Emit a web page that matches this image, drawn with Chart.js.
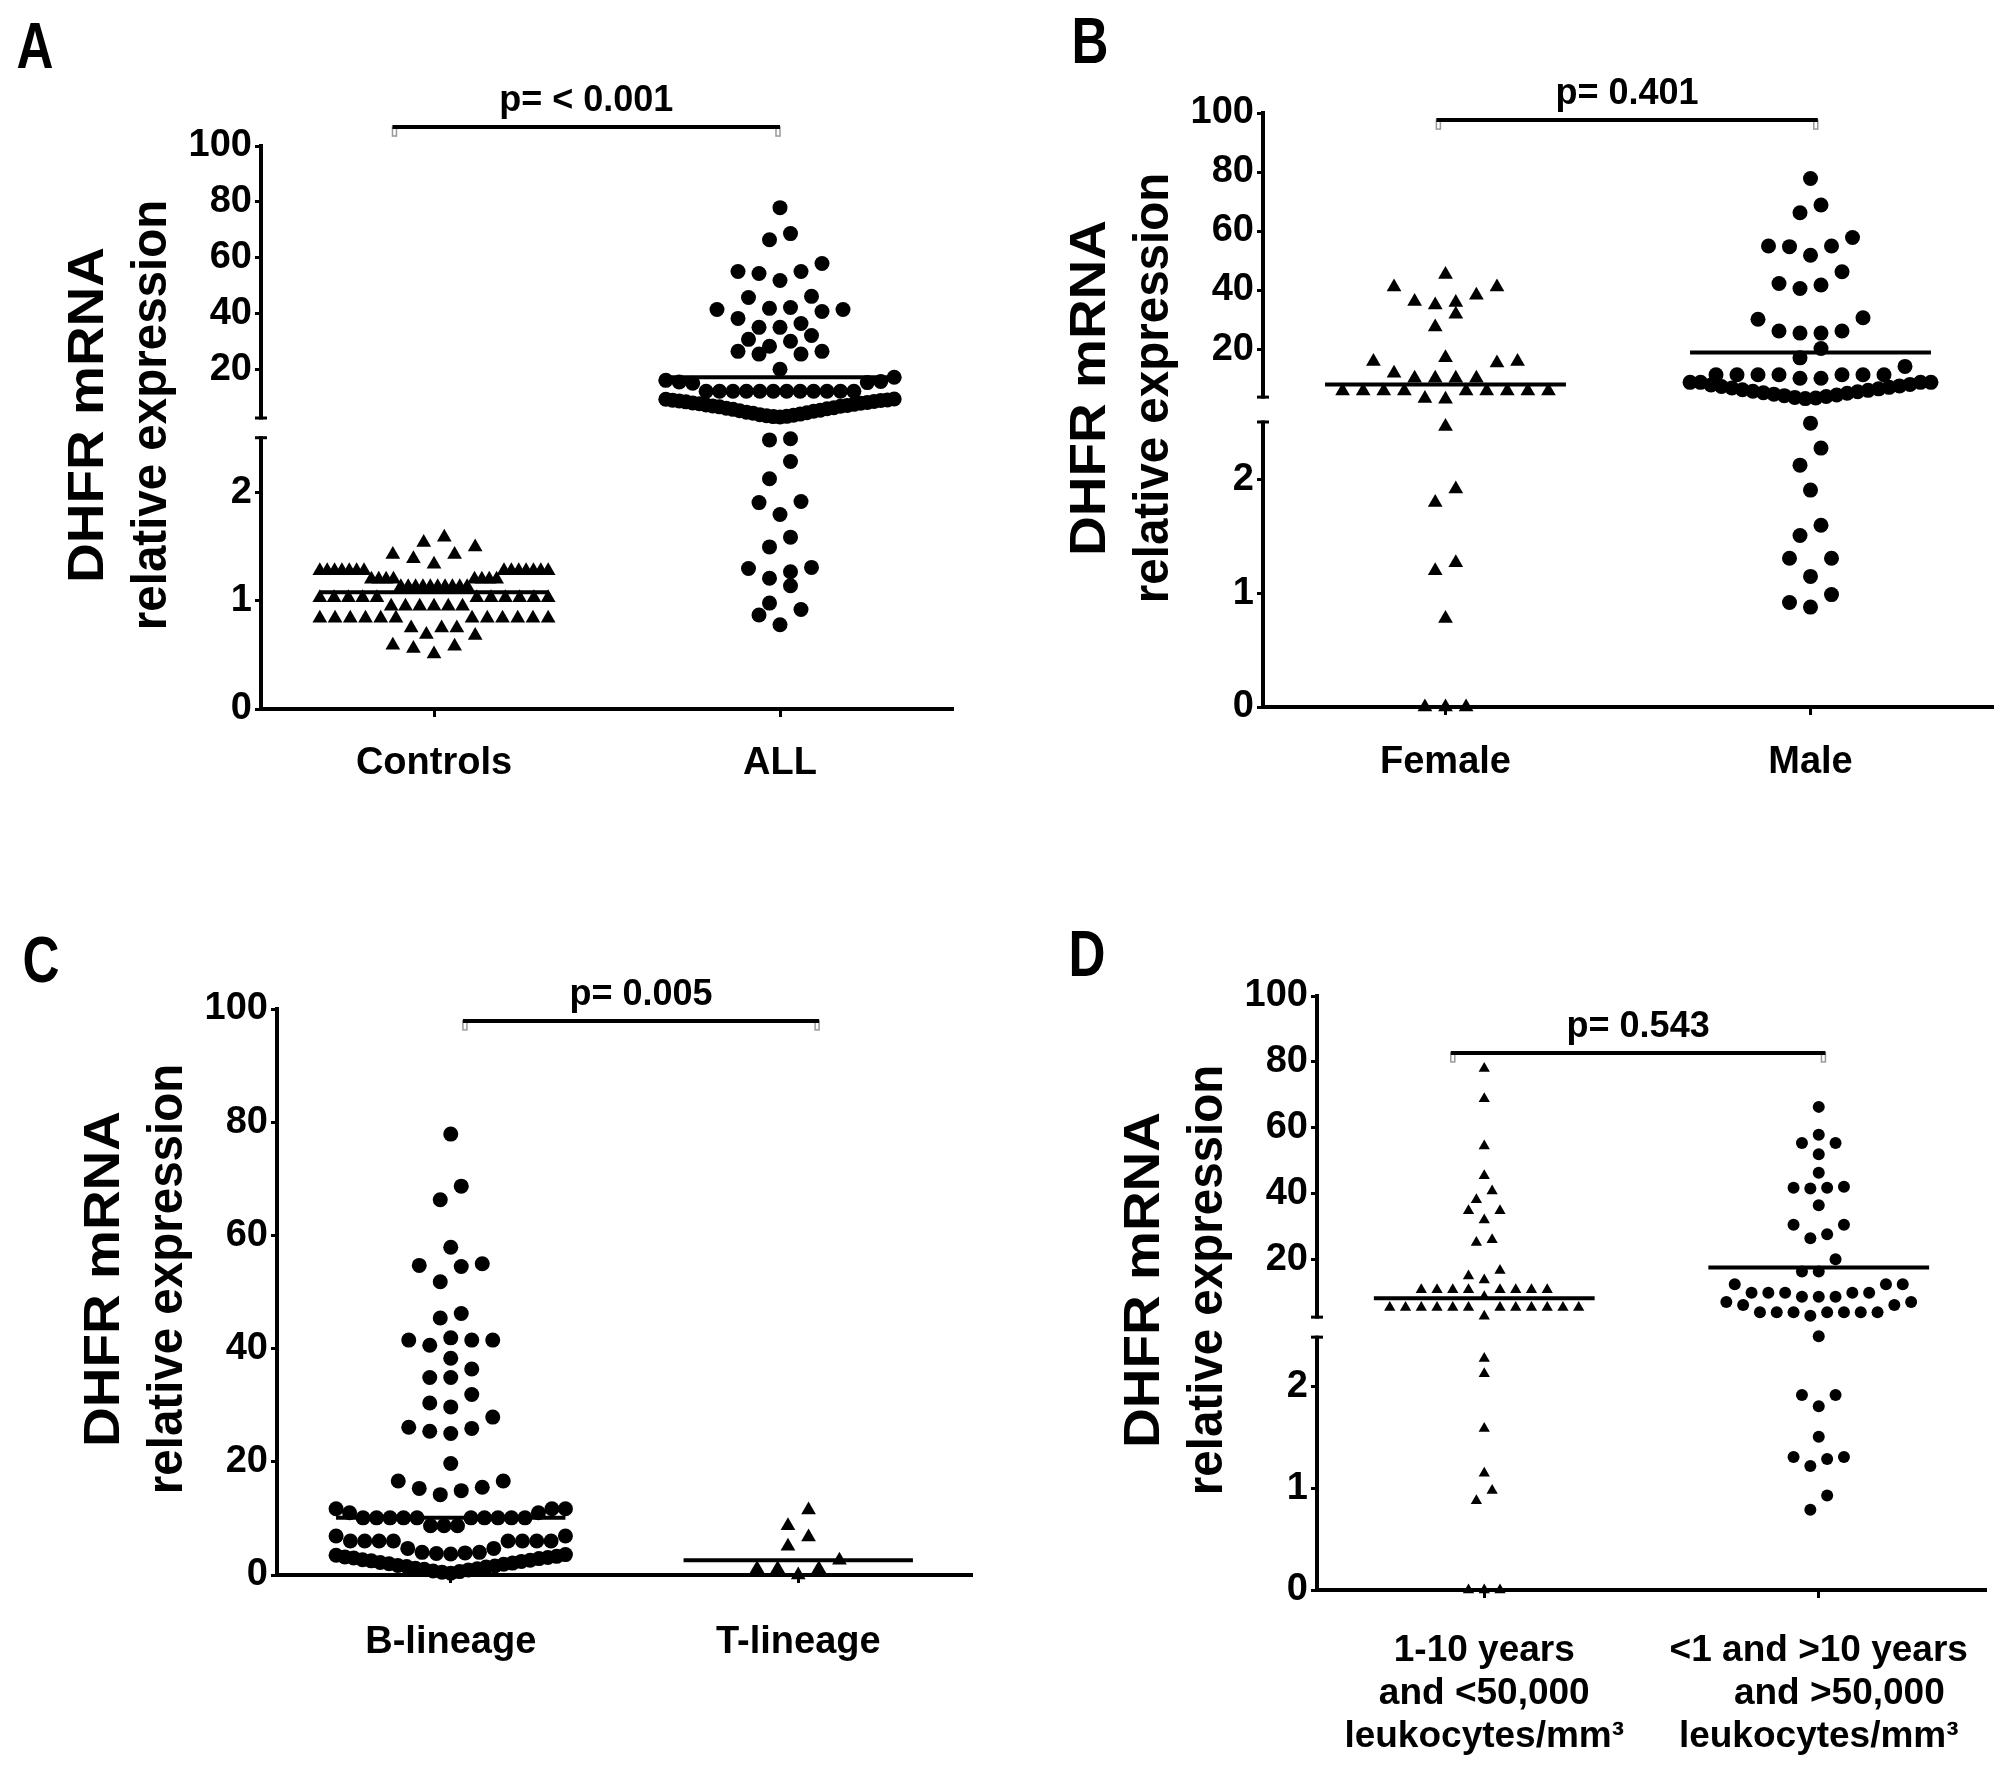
<!DOCTYPE html>
<html>
<head>
<meta charset="utf-8">
<title>DHFR mRNA relative expression</title>
<script src="https://cdn.jsdelivr.net/npm/chart.js@4.4.1/dist/chart.umd.min.js"></script>
<style>
  html, body { margin: 0; padding: 0; background: #fff; width: 2009px; height: 1773px; overflow: hidden; }
  canvas { position: absolute; }
</style>
</head>
<body>
<canvas id="panelA" width="1004" height="880" style="left:0;top:0"></canvas>
<canvas id="panelB" width="1005" height="880" style="left:1004px;top:0"></canvas>
<canvas id="panelC" width="1004" height="893" style="left:0;top:880px"></canvas>
<canvas id="panelD" width="1005" height="893" style="left:1004px;top:880px"></canvas>
<script>
// ---- data ----
const Y_TITLE = ['DHFR mRNA', 'relative expression'];
const UPPER_TICKS = [20, 40, 60, 80, 100];
const LOWER_TICKS = [0, 1, 2];
const LINEAR_TICKS = [0, 20, 40, 60, 80, 100];

// A: Controls vs ALL
const A_CATS = ['Controls', 'ALL'];
const A_CONTROLS = [1.59, 1.54, 1.50, 1.43, 1.43, 1.39, 1.34,
  1.28, 1.28, 1.28, 1.28, 1.28, 1.28, 1.28, 1.28, 1.28, 1.28, 1.28, 1.28, 1.28, 1.28,
  1.20, 1.20, 1.20, 1.20, 1.20, 1.20, 1.20, 1.20,
  1.13, 1.13, 1.13, 1.13, 1.13, 1.13, 1.13, 1.13, 1.13, 1.13,
  1.03, 1.03, 1.03, 1.03, 1.03, 1.03, 1.03, 1.03, 1.03, 1.03, 1.03,
  0.95, 0.95, 0.95, 0.95, 0.95, 0.95,
  0.84, 0.84, 0.84, 0.84, 0.84, 0.84, 0.84, 0.84, 0.84, 0.84, 0.84, 0.84,
  0.75, 0.75, 0.75, 0.69, 0.68, 0.59, 0.58, 0.56, 0.51];
const A_ALL = [77.9, 68.6, 66.4, 57.9, 55.0, 55.0, 54.3, 51.8, 46.1, 45.7, 42.1, 41.8, 41.4, 41.4,
  40.7, 38.2, 36.4, 35.0, 35.0, 32.1, 30.7, 30.0, 28.2, 26.4, 26.4, 25.4, 25.4, 20.0, 17.1,
  16.0, 15.6, 15.2, 15.0, 15.4,
  12.1, 12.1, 12.1, 12.1, 12.1, 12.1, 12.1, 12.1, 12.1, 12.1, 12.1, 12.1,
  9.3, 9.2, 9.0, 8.9, 8.8, 8.6, 8.4, 8.3, 8.1, 7.9, 7.8, 7.6, 7.4, 7.2, 7.0, 6.8, 6.7, 6.5,
  6.2, 6.0, 5.8, 5.6, 5.3, 5.1, 4.9, 4.6, 4.4, 4.2, 3.9, 3.7, 3.5, 3.3, 3.1, 3.0, 2.9,
  2.50, 2.49, 2.29, 2.13, 1.92, 1.91, 1.80, 1.59, 1.50, 1.31, 1.30, 1.27, 1.21, 1.14,
  0.98, 0.92, 0.87, 0.78];
const A_MEANS = [1.08, 17.1];

// B: Female vs Male
const B_CATS = ['Female', 'Male'];
const B_FEMALE = [45.3, 41.0, 41.0, 38.2, 36.1, 35.8, 34.9, 31.8, 27.5, 17.0, 15.8, 15.8, 15.3,
  11.8, 10.1, 10.1, 10.1, 10.1, 5.8, 5.8, 5.8, 5.8, 5.8, 5.8, 5.8, 5.8, 5.8, 3.2, 3.0,
  2.47, 1.92, 1.80, 1.27, 1.20, 0.78, 0, 0, 0];
const B_MALE = [77.8, 68.8, 66.2, 57.8, 54.9, 54.9, 54.7, 51.8, 46.2, 42.2, 41.7, 40.5, 30.6,
  30.1, 26.1, 26.1, 25.4, 25.4, 20.2, 17.0, 14.1, 11.3, 11.3, 11.3, 11.3, 11.3, 11.3, 11.3,
  10.1, 10.1, 8.7, 8.7, 8.7, 8.7,
  8.0, 7.8, 7.5, 7.3, 7.0, 6.8, 6.5, 6.2, 6.0, 5.7, 5.5, 5.2, 5.0, 4.7, 4.4, 4.2, 3.9, 3.6, 3.4, 3.2,
  2.50, 2.28, 2.13, 1.91, 1.60, 1.51, 1.31, 1.31, 1.15, 0.99, 0.92, 0.88];
const B_MEANS = [8.0, 18.8];

// C: B-lineage vs T-lineage
const C_CATS = ['B-lineage', 'T-lineage'];
const C_BLIN = [77.9, 68.7, 66.3, 57.9, 55.0, 54.7, 54.5, 51.8, 46.2, 45.4, 41.9, 41.5, 41.5, 41.5,
  40.6, 38.3, 36.4, 34.9, 34.9, 31.9, 30.4, 29.7, 27.9, 26.1, 25.9, 25.4, 25.0, 19.7, 16.6, 16.6,
  15.5, 15.3, 14.9, 14.2, 11.7, 11.7, 11.7, 11.0, 11.0,
  10.1, 10.1, 10.1, 10.1, 10.1, 10.1, 10.1, 10.1, 10.1, 10.1, 8.7, 8.7, 8.7, 6.9, 6.9,
  6.0, 6.0, 6.0, 6.0, 6.0, 6.0, 6.0, 6.0, 4.7, 4.7, 4.0, 4.0,
  3.9, 3.8, 3.7, 3.6, 3.5, 3.3, 3.2, 3.1, 3.0, 2.9, 2.7, 2.6, 2.5, 2.4, 2.2, 2.1, 2.0, 1.9,
  1.7, 1.6, 1.5, 1.4, 1.2, 1.1, 1.0, 0.9, 0.7, 0.6, 0.5, 0.3];
const C_TLIN = [11.5, 8.7, 6.7, 5.1, 2.6, 1.1, 1.1, 1.1, 0];
const C_MEANS = [10.1, 2.6];

// D: age / leukocyte risk groups
const D_CATS = [['1-10 years', 'and <50,000', 'leukocytes/mm³'],
  ['<1 and >10 years', '\u00a0\u00a0\u00a0\u00a0and >50,000', 'leukocytes/mm³']];
const D_LOW = [78.0, 68.8, 54.4, 45.4, 40.7, 38.1, 34.7, 34.7, 31.9, 25.9, 25.1, 16.6, 14.9, 13.7,
  10.7, 10.7, 10.7, 10.7, 10.7, 10.7, 10.7, 10.7, 8.6,
  5.3, 5.3, 5.3, 5.3, 5.3, 5.3, 5.3, 5.3, 5.3, 5.3, 5.3, 5.3, 2.7,
  2.28, 2.13, 1.59, 1.15, 0.98, 0.88, 0, 0, 0];
const D_HIGH = [66.3, 57.8, 55.3, 55.3, 51.9, 46.3, 42.0, 41.7, 41.7, 41.5, 36.4, 30.5, 30.5, 27.6,
  26.4, 20.0, 16.3, 16.3, 12.4, 12.4, 12.4, 9.8, 9.8, 9.8, 9.8, 9.8, 8.6, 8.6, 8.6, 7.0, 7.0,
  6.1, 6.1, 3.9, 3.9, 3.9, 3.9, 3.9, 3.9, 3.9, 2.8,
  2.50, 1.92, 1.92, 1.81, 1.51, 1.31, 1.31, 1.29, 1.22, 0.93, 0.79];
const D_MEANS = [8.1, 17.5];

const P_LABELS = ['p= < 0.001', 'p= 0.401', 'p= 0.005', 'p= 0.543'];

// ---- drawing ----
const FONT = "'Liberation Sans', Arial, Helvetica, sans-serif";
const BREAK_AT = 2.55;   // values above go on the upper segment
const MEAN_HALF = 0.33;

Chart.defaults.font.family = FONT;
Chart.defaults.font.weight = 'bold';
Chart.defaults.font.size = 38;
Chart.defaults.color = '#000';

const deco = {
  id: 'deco',
  afterDraw(chart, args, o) {
    const ctx = chart.ctx, ca = chart.chartArea, xs = chart.scales.x;
    ctx.save();
    ctx.fillStyle = '#000';
    ctx.textAlign = 'center';
    ctx.textBaseline = 'middle';

    // panel letter
    ctx.font = 'bold 64px ' + FONT;
    ctx.save();
    ctx.translate(o.letter[1], o.letter[2]);
    ctx.scale(0.8, 1);
    ctx.fillText(o.letter[0], 0, 0);
    ctx.restore();

    // y title, two lines (stretched along the text to the measured lengths)
    ctx.font = 'bold 50px ' + FONT;
    Y_TITLE.forEach((line, i) => {
      ctx.save();
      ctx.translate(ca.left + o.titleX[i], o.titleY);
      ctx.rotate(-Math.PI / 2);
      ctx.scale(i === 0 ? 1.1 : 0.95, 1);
      ctx.fillText(line, 0, 0);
      ctx.restore();
    });

    // broken axis
    if (o.brk) {
      const ax = ca.left;
      const yTop = chart.scales.yHi.getPixelForValue(o.brk[0]);
      const yBot = chart.scales.yLo.getPixelForValue(o.brk[1]);
      ctx.fillStyle = '#fff';
      ctx.fillRect(ax - 9, yTop + 1.5, 18, yBot - yTop - 3);
      ctx.fillStyle = '#000';
      ctx.fillRect(ax - 6, yTop - 1.5, 12, 3);
      ctx.fillRect(ax - 6, yBot - 1.5, 12, 3);
    }

    // significance bracket
    const b = o.bracket;
    const yb = chart.scales[b.axis].getPixelForValue(b.y);
    const x1 = xs.getPixelForValue(b.x[0]), x2 = xs.getPixelForValue(b.x[1]);
    ctx.strokeStyle = '#999';
    ctx.lineWidth = 1.5;
    ctx.strokeRect(x1, yb, 4, 9);
    ctx.strokeRect(x2 - 4, yb, 4, 9);
    ctx.strokeStyle = '#000';
    ctx.lineWidth = 4;
    ctx.beginPath();
    ctx.moveTo(x1, yb);
    ctx.lineTo(x2, yb);
    ctx.stroke();
    ctx.fillStyle = '#000';
    ctx.font = 'bold 36px ' + FONT;
    ctx.fillText(o.pText, (x1 + x2) / 2, yb - 26);
    ctx.restore();
  }
};

function tickGrid(len) {
  return { display: true, drawOnChartArea: false, drawTicks: true, tickLength: len, tickWidth: 3, tickColor: '#000' };
}
const AXIS_BORDER = { display: true, width: 4, color: '#000' };

function yScale(p, ticks, extra) {
  return Object.assign({
    type: 'linear',
    position: 'left',
    afterBuildTicks: a => { a.ticks = ticks.map(v => ({ value: v })); },
    afterFit: a => { a.width = p.left; },
    grid: tickGrid(6),
    border: AXIS_BORDER,
    ticks: { color: '#000', padding: 3, autoSkip: false, font: { size: 38, weight: 'bold' } }
  }, extra);
}

// scatter-dot layout: points whose pixels fall in the same band are spread
// into one row, lowest values in the middle, row squeezed to the mean line width
function layoutSwarm(chart, swarm) {
  const xs = chart.scales.x;
  const unit = xs.getPixelForValue(2) - xs.getPixelForValue(1);
  const maxW = MEAN_HALF * 2 * unit;
  swarm.forEach(s => {
    const ds = chart.data.datasets[s.index];
    const ys = chart.scales[ds.yAxisID];
    const w = s.shape === 'triangle' ? s.r * 1.73 : s.r * 2;
    const step = w * 1.4, band = w * 1.25;
    const pts = s.vals.map(v => ({ v, py: ys.getPixelForValue(v), px: 0 }));
    const order = pts.slice().sort((a, b) => b.py - a.py);
    let i = 0;
    while (i < order.length) {
      let j = i;
      while (j < order.length && order[i].py - order[j].py <= band) j++;
      const row = order.slice(i, j);
      const n = row.length;
      const gap = n > 1 ? Math.min(step, maxW / (n - 1)) : 0;
      const slots = row.map((_, k) => (k - (n - 1) / 2) * gap)
        .sort((a, b) => Math.abs(a) - Math.abs(b) || a - b);
      row.forEach((pt, k) => { pt.px = slots[k]; });
      i = j;
    }
    ds.data = pts.map(pt => ({ x: s.cat + pt.px / unit, y: pt.v }));
  });
  chart.update('none');
}

function makePanel(canvasId, p) {
  const datasets = [];
  const swarm = [];
  p.groups.forEach((g, gi) => {
    const cat = gi + 1;
    const r = g.shape === 'triangle' ? p.rTri : p.rCirc;
    const parts = p.broken
      ? [['yLo', g.vals.filter(v => v <= BREAK_AT)], ['yHi', g.vals.filter(v => v > BREAK_AT)]]
      : [['y', g.vals]];
    parts.forEach(([axis, vals]) => {
      if (!vals.length) return;
      swarm.push({ index: datasets.length, cat, vals, r, shape: g.shape });
      datasets.push({
        type: 'scatter',
        yAxisID: axis,
        data: vals.map(v => ({ x: cat, y: v })),
        pointStyle: g.shape,
        pointRadius: r,
        pointHoverRadius: r,
        backgroundColor: '#000',
        borderWidth: 0,
        clip: false
      });
    });
    const mAxis = p.broken ? (g.mean > BREAK_AT ? 'yHi' : 'yLo') : 'y';
    datasets.push({
      type: 'line',
      yAxisID: mAxis,
      data: [{ x: cat - MEAN_HALF, y: g.mean }, { x: cat + MEAN_HALF, y: g.mean }],
      borderColor: '#000',
      borderWidth: 4,
      pointRadius: 0,
      fill: false,
      clip: false
    });
  });

  const scales = {
    x: {
      type: 'linear',
      position: 'bottom',
      min: 0.5,
      max: 2.5,
      afterBuildTicks: a => { a.ticks = [{ value: 1 }, { value: 2 }]; },
      afterFit: a => { a.height = p.xAxisH; },
      grid: tickGrid(8),
      border: AXIS_BORDER,
      ticks: {
        color: '#000', autoSkip: false, maxRotation: 0, padding: p.xPad,
        font: { size: p.xFont, weight: 'bold', lineHeight: p.xLine },
        callback: v => p.cats[Math.round(v) - 1]
      }
    }
  };
  if (p.broken) {
    scales.yLo = yScale(p, LOWER_TICKS, { min: 0, max: p.loMax, stack: 'y', stackWeight: p.loWeight, weight: 0 });
    scales.yHi = yScale(p, UPPER_TICKS, { min: p.hiMin, max: 100, stack: 'y', stackWeight: p.hiWeight, weight: 1 });
  } else {
    scales.y = yScale(p, LINEAR_TICKS, { min: 0, max: 100 });
  }

  const chart = new Chart(document.getElementById(canvasId), {
    type: 'scatter',
    data: { datasets },
    options: {
      responsive: false,
      devicePixelRatio: 1,
      animation: false,
      events: [],
      layout: { padding: { left: 0, right: p.right, top: p.top, bottom: 0 } },
      scales,
      plugins: {
        legend: { display: false },
        tooltip: { enabled: false },
        deco: {
          letter: p.letter, titleX: [-172, -109], titleY: p.titleY,
          brk: p.brk, bracket: p.bracket, pText: p.pText
        }
      }
    },
    plugins: [deco]
  });
  layoutSwarm(chart, swarm);
  return chart;
}

makePanel('panelA', {
  cats: A_CATS,
  groups: [
    { vals: A_CONTROLS, mean: A_MEANS[0], shape: 'triangle' },
    { vals: A_ALL, mean: A_MEANS[1], shape: 'circle' }
  ],
  broken: true, left: 261, right: 51, top: 146, xAxisH: 171, xPad: 24, xFont: 38, xLine: 1.2,
  hiMin: -1.08, hiWeight: 282, loMax: 2.6, loWeight: 281, brk: [2.5, 2.51],
  rTri: 8.5, rCirc: 7.5,
  letter: ['A', 35, 50], titleY: 415,
  bracket: { x: [0.88, 2.0], y: 106.8, axis: 'yHi' }, pText: P_LABELS[0]
});

makePanel('panelB', {
  cats: B_CATS,
  groups: [
    { vals: B_FEMALE, mean: B_MEANS[0], shape: 'triangle' },
    { vals: B_MALE, mean: B_MEANS[1], shape: 'circle' }
  ],
  broken: true, left: 259, right: 16, top: 113, xAxisH: 173, xPad: 25, xFont: 38, xLine: 1.2,
  hiMin: -0.5, hiWeight: 296.5, loMax: 2.62, loWeight: 297.5, brk: [3.7, 2.51],
  rTri: 8.5, rCirc: 7.5,
  letter: ['B', 86, 45], titleY: 388,
  bracket: { x: [0.975, 2.02], y: 97.6, axis: 'yHi' }, pText: P_LABELS[1]
});

makePanel('panelC', {
  cats: C_CATS,
  groups: [
    { vals: C_BLIN, mean: C_MEANS[0], shape: 'circle' },
    { vals: C_TLIN, mean: C_MEANS[1], shape: 'triangle' }
  ],
  broken: false, left: 277, right: 32, top: 129, xAxisH: 198, xPad: 37, xFont: 38, xLine: 1.2,
  rTri: 8.5, rCirc: 7.5,
  letter: ['C', 41, 84], titleY: 399,
  bracket: { x: [1.035, 2.06], y: 97.9, axis: 'y' }, pText: P_LABELS[2]
});

makePanel('panelD', {
  cats: D_CATS,
  groups: [
    { vals: D_LOW, mean: D_MEANS[0], shape: 'triangle' },
    { vals: D_HIGH, mean: D_MEANS[1], shape: 'circle' }
  ],
  broken: true, left: 313, right: 23, top: 116, xAxisH: 183, xPad: 31, xFont: 37, xLine: 1.16,
  hiMin: -0.6, hiWeight: 331, loMax: 2.59, loWeight: 263, brk: [2.4, 2.49],
  rTri: 6.5, rCirc: 6,
  letter: ['D', 83, 78], titleY: 400,
  bracket: { x: [0.9, 2.02], y: 82.7, axis: 'yHi' }, pText: P_LABELS[3]
});
</script>
</body>
</html>
